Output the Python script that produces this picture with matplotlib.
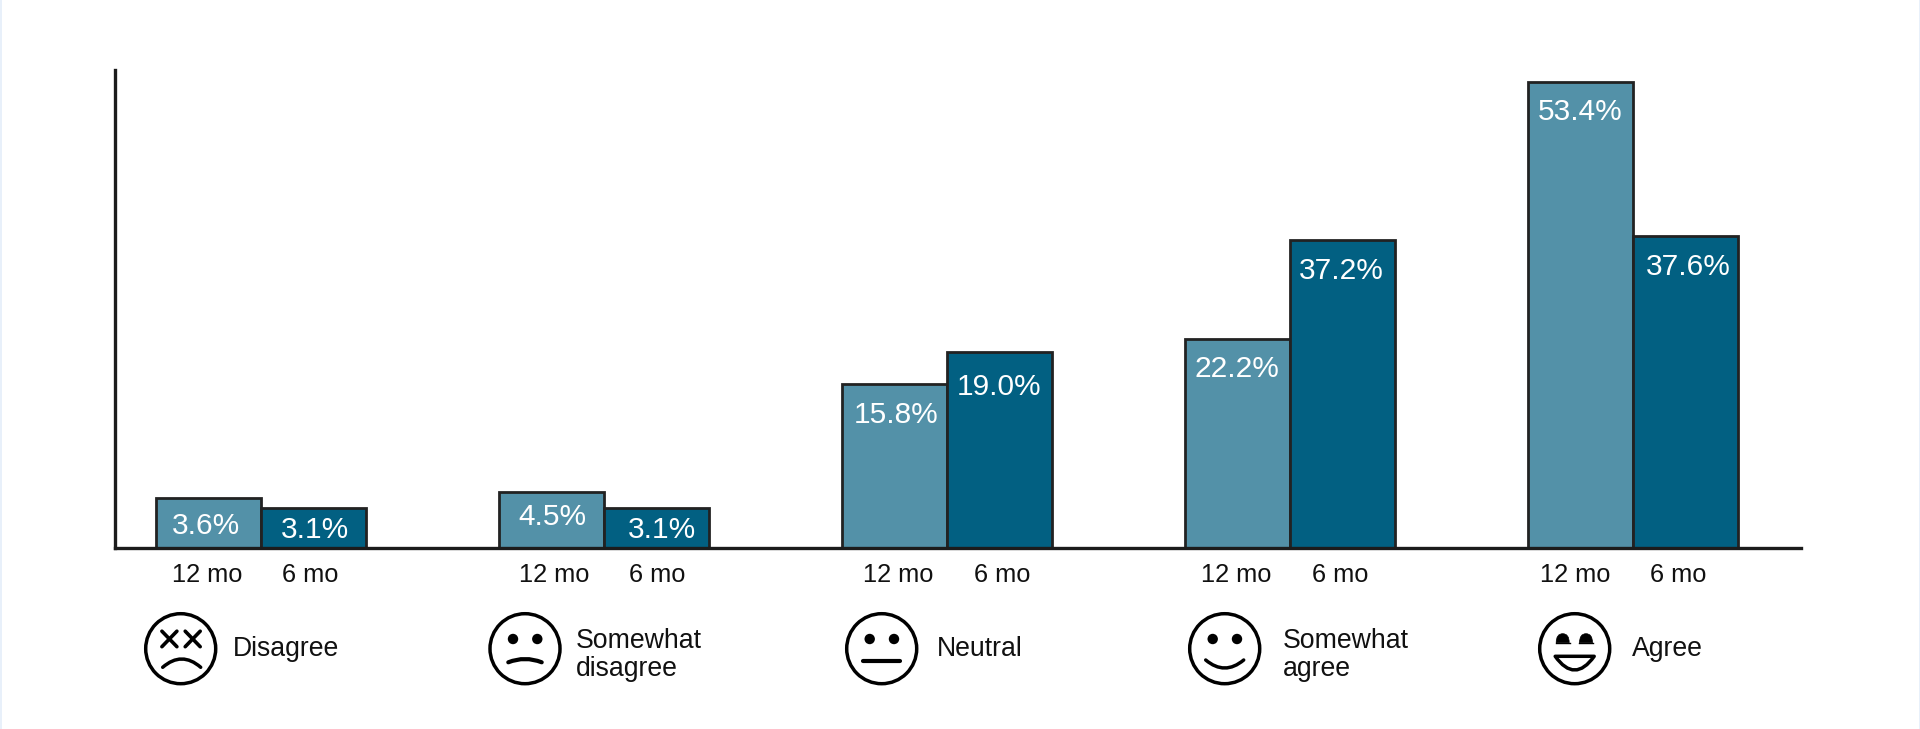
import numpy as np
import matplotlib.pyplot as plt
from matplotlib.patches import Circle, Rectangle, PathPatch
from matplotlib.path import Path

# printed percentages
labels_12mo = ["3.6%", "4.5%", "15.8%", "22.2%", "53.4%"]
labels_6mo = ["3.1%", "3.1%", "19.0%", "37.2%", "37.6%"]

# drawn bar heights (the original bars are not to scale with
# their printed values; axis unit = 53.4 at the tallest bar)
heights_12mo = [5.7, 6.4, 18.8, 23.9, 53.4]
heights_6mo = [4.6, 4.6, 22.5, 35.3, 35.7]

tick_12mo = "12 mo"
tick_6mo = "6 mo"
answers = ["Disagree", "Somewhat\ndisagree", "Neutral", "Somewhat\nagree", "Agree"]

light = "#5391A8"
dark = "#026082"
ink = "#222222"
W, H = 1920, 729
font = "Liberation Sans"

fig = plt.figure(figsize=(W / 100, H / 100), dpi=100, facecolor="white")
ax = fig.add_axes([115 / W, (H - 548) / H, (1801 - 115) / W, (548 - 70) / H])

# one group = 343 px, one bar = 105 px
px = 1 / 343
bar_w = 105 * px
x = np.arange(5)
ax.set_xlim((115 - 261) * px, (1801 - 261) * px)
ax.set_ylim(0, 54.77)

ax.bar(x - bar_w / 2, heights_12mo, bar_w, color=light, edgecolor=ink, linewidth=2, clip_on=False)
ax.bar(x + bar_w / 2, heights_6mo, bar_w, color=dark, edgecolor=ink, linewidth=2, clip_on=False)

for s in ["top", "right"]:
    ax.spines[s].set_visible(False)
for s in ["left", "bottom"]:
    ax.spines[s].set_linewidth(2.4)
    ax.spines[s].set_color("#1c1c1c")
    ax.spines[s].set_zorder(5)
ax.set_yticks([])

# tick labels sit a little off the bar centres in the original
shift_12 = np.array([-54, -50, -49, -54, -58]) * px
shift_6 = np.array([49, 53, 55, 50, 45]) * px
ax.set_xticks(np.concatenate([x + shift_12, x + shift_6]))
ax.set_xticklabels([tick_12mo] * 5 + [tick_6mo] * 5, fontsize=18.3, family=font, color="#111111")
ax.tick_params(axis="x", length=0, pad=11)

# value labels, offsets in pixels from the top centre of each bar
dx_12 = [-3, 1, 1.5, -0.5, 0]
dy_12 = [28, 25, 31.5, 30, 30]
dx_6 = [1.6, 5, -0.5, -1, 3]
dy_6 = [22, 22, 35, 31, 31]
for i in range(5):
    ax.annotate(labels_12mo[i], (x[i] - bar_w / 2, heights_12mo[i]), xytext=(dx_12[i], -dy_12[i]),
                textcoords="offset pixels", ha="center", va="center", color="white", fontsize=21.5, family=font)
    ax.annotate(labels_6mo[i], (x[i] + bar_w / 2, heights_6mo[i]), xytext=(dx_6[i], -dy_6[i]),
                textcoords="offset pixels", ha="center", va="center", color="white", fontsize=21.5, family=font)

# overlay in pixel coords for the smiley row
ov = fig.add_axes([0, 0, 1, 1], facecolor="none")
ov.set_xlim(0, W)
ov.set_ylim(H, 0)
ov.axis("off")

ov.add_patch(Rectangle((0, 0), 1.5, H, color="#E8F0FA", lw=0))
ov.add_patch(Rectangle((W - 1.5, 0), 1.5, H, color="#E8F0FA", lw=0))

stroke = 2.5


def head(cx, cy):
    ov.add_patch(Circle((cx, cy), 35, fill=False, edgecolor="black", lw=stroke))


def eyes(cx, cy):
    for dx in (-12, 12.3):
        ov.add_patch(Circle((cx + dx, cy - 9.7), 5.2, color="black", lw=0))


def curve(cx, cy, x0, x1, y_end, y_ctrl, lw=stroke):
    p = Path([(cx + x0, cy + y_end), (cx + (x0 + x1) / 2, cy + y_ctrl), (cx + x1, cy + y_end)],
             [Path.MOVETO, Path.CURVE3, Path.CURVE3])
    ov.add_patch(PathPatch(p, fill=False, edgecolor="black", lw=lw, capstyle="round"))


centres = [180.7, 525, 881.7, 1224.7, 1574.7]
cy = 648.7
for c in centres:
    head(c, cy)

# dead eyes, frown
c = centres[0]
for dx in (-11.3, 12):
    ov.plot([c + dx - 7.5, c + dx + 7.5], [cy - 17.5, cy - 2], color="black", lw=2.6, solid_capstyle="round")
    ov.plot([c + dx - 7.5, c + dx + 7.5], [cy - 2, cy - 17.5], color="black", lw=2.6, solid_capstyle="round")
curve(c, cy, -18, 20, 18.6, 2)

eyes(centres[1], cy)
curve(centres[1], cy, -16.7, 16.7, 13.6, 7, lw=3)

eyes(centres[2], cy)
ov.plot([centres[2] - 19, centres[2] + 18.6], [cy + 12.7, cy + 12.7], color="black", lw=3, solid_capstyle="round")

eyes(centres[3], cy)
curve(centres[3], cy, -19, 19, 11.3, 27.3)

# domed eyes, open mouth
c = centres[4]
for dx in (-12, 11.3):
    dome = Path([(c + dx - 6.5, cy - 6), (c + dx - 6.5, cy - 15), (c + dx, cy - 15), (c + dx + 6.5, cy - 15),
                 (c + dx + 6.5, cy - 6), (c + dx - 6.5, cy - 6)],
                [Path.MOVETO, Path.CURVE3, Path.CURVE3, Path.CURVE3, Path.CURVE3, Path.CLOSEPOLY])
    ov.add_patch(PathPatch(dome, facecolor="black", edgecolor="black", lw=0.5))
    ov.plot([c + dx - 7, c + dx + 7], [cy - 5.7, cy - 5.7], color="black", lw=1)
mouth = Path([(c - 19.5, cy + 7.6), (c, cy + 35), (c + 19.5, cy + 7.6), (c - 19.5, cy + 7.6)],
             [Path.MOVETO, Path.CURVE3, Path.CURVE3, Path.CLOSEPOLY])
ov.add_patch(PathPatch(mouth, facecolor="white", edgecolor="black", lw=stroke, joinstyle="round"))

text_x = [233, 576, 937, 1282.6, 1632]
text_y = [649, 655, 649, 655, 649]
for t, tx, ty in zip(answers, text_x, text_y):
    ov.text(tx, ty, t, ha="left", va="center", fontsize=19.2, family=font, color="#111111", linespacing=1.15)

fig.savefig("out.png", dpi=100)
